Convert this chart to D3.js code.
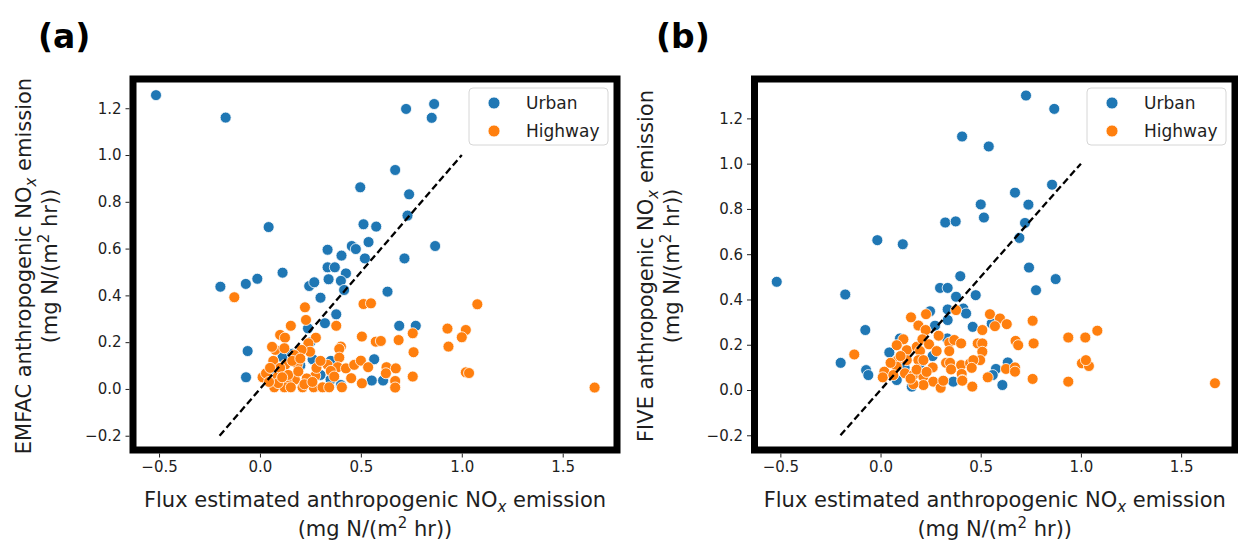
<!DOCTYPE html>
<html>
<head>
<meta charset="utf-8">
<script src="https://cdn.jsdelivr.net/npm/d3@7"></script>
<style>
  body { margin: 0; background: #fff; }
  text { font-family: "DejaVu Sans", sans-serif; fill: #1e1e1e; }
</style>
</head>
<body>
<script>
// ---- data ----
const urbanA = [
  [-0.515,1.256],[-0.17,1.16],[0.724,1.197],[0.863,1.218],[0.851,1.159],[0.67,0.936],
  [0.497,0.862],[0.739,0.832],[0.731,0.741],[0.043,0.692],[0.513,0.704],[0.576,0.694],
  [0.538,0.628],[0.868,0.611],[0.335,0.595],[0.455,0.611],[0.475,0.598],[0.404,0.57],
  [0.52,0.558],[0.716,0.558],[0.335,0.52],[0.371,0.52],[0.426,0.494],[0.112,0.497],
  [-0.196,0.437],[-0.07,0.449],[-0.013,0.471],[0.244,0.44],[0.269,0.456],[0.34,0.469],
  [0.401,0.462],[0.417,0.423],[0.3,0.39],[0.632,0.416],[0.378,0.319],[0.322,0.281],
  [0.238,0.259],[0.69,0.27],[0.772,0.27],[-0.061,0.162],[-0.069,0.05],[0.261,0.127],
  [0.351,0.12],[0.566,0.127],[0.554,0.036],[0.61,0.036],[0.401,0.017],[0.112,0.135],
  [0.16,0.15],[0.2,0.1],[0.3,0.06],[0.08,0.08],[0.35,0.04],[0.25,0.2]
];
const highwayA = [
  [-0.127,0.392],[1.077,0.362],[0.513,0.363],[0.55,0.366],[0.223,0.349],[0.228,0.295],
  [0.153,0.27],[0.378,0.27],[0.929,0.258],[1.02,0.252],[1.0,0.221],[0.934,0.181],
  [1.02,0.071],[1.036,0.068],[0.757,0.238],[0.761,0.157],[0.757,0.053],[0.505,0.224],
  [0.574,0.202],[0.599,0.205],[0.687,0.209],[0.1,0.231],[0.124,0.219],[0.277,0.219],
  [0.24,0.195],[0.248,0.159],[0.401,0.181],[0.393,0.171],[0.076,0.167],[0.121,0.174],
  [0.206,0.167],[0.17,0.145],[0.066,0.12],[0.125,0.103],[0.186,0.106],[0.393,0.134],
  [0.335,0.103],[0.385,0.093],[0.426,0.088],[0.467,0.103],[0.5,0.121],[0.536,0.093],
  [0.627,0.093],[0.673,0.088],[0.624,0.067],[0.351,0.077],[0.368,0.053],[0.274,0.056],
  [0.232,0.045],[0.173,0.04],[0.132,0.033],[0.452,0.046],[0.505,0.024],[0.67,0.034],
  [0.67,0.006],[0.013,0.05],[0.03,0.067],[0.088,0.053],[0.071,0.007],[0.121,0.007],
  [0.153,0.007],[0.211,0.007],[0.266,0.007],[0.31,0.007],[0.343,0.007],[0.406,0.007],
  [1.658,0.006],[0.1,0.09],[0.14,0.06],[0.19,0.075],[0.22,0.02],[0.09,0.025],
  [0.05,0.09],[0.16,0.12],[0.045,0.03],[0.26,0.03],[0.11,0.05],[0.2,0.13],
  [0.06,0.18],[0.28,0.09],[0.3,0.12]
];
const urbanB = [
  [-0.518,0.478],[-0.176,0.422],[0.726,1.301],[0.867,1.242],[0.407,1.12],[0.54,1.076],
  [0.856,0.907],[0.671,0.872],[0.5,0.82],[0.738,0.819],[0.516,0.762],[0.323,0.74],
  [0.375,0.745],[0.721,0.738],[0.693,0.672],[-0.016,0.662],[0.111,0.644],[0.741,0.541],
  [0.874,0.49],[0.776,0.441],[0.398,0.503],[0.297,0.451],[0.335,0.451],[0.475,0.419],
  [0.377,0.412],[0.413,0.36],[0.427,0.338],[0.335,0.356],[0.247,0.348],[0.335,0.309],
  [0.272,0.284],[0.46,0.279],[0.555,0.294],[-0.076,0.265],[0.333,0.228],[0.097,0.228],
  [0.044,0.166],[-0.199,0.12],[-0.072,0.088],[-0.061,0.066],[0.26,0.15],[0.635,0.122],
  [0.576,0.093],[0.56,0.066],[0.608,0.022],[0.363,0.037],[0.081,0.044],[0.156,0.015],
  [0.2,0.12],[0.12,0.1]
];
const highwayB = [
  [-0.131,0.157],[1.082,0.262],[0.937,0.232],[1.022,0.232],[1.005,0.118],[1.04,0.106],
  [1.025,0.132],[0.937,0.037],[0.759,0.306],[0.764,0.206],[0.759,0.049],[0.674,0.217],
  [0.687,0.198],[0.546,0.335],[0.596,0.316],[0.63,0.291],[0.571,0.282],[0.508,0.265],
  [0.152,0.321],[0.227,0.335],[0.189,0.285],[0.225,0.265],[0.377,0.353],[0.114,0.224],
  [0.081,0.198],[0.131,0.176],[0.181,0.191],[0.209,0.224],[0.242,0.202],[0.197,0.172],
  [0.343,0.209],[0.368,0.221],[0.402,0.206],[0.28,0.172],[0.343,0.172],[0.485,0.206],
  [0.508,0.206],[0.508,0.169],[0.497,0.132],[0.086,0.132],[0.131,0.132],[0.189,0.132],
  [0.214,0.132],[0.081,0.103],[0.327,0.12],[0.347,0.12],[0.402,0.11],[0.447,0.118],
  [0.463,0.132],[0.455,0.098],[0.352,0.091],[0.405,0.071],[0.408,0.044],[0.535,0.056],
  [0.626,0.093],[0.671,0.1],[0.671,0.081],[0.458,0.015],[0.019,0.081],[0.011,0.056],
  [0.064,0.066],[0.122,0.074],[0.164,0.066],[0.214,0.059],[0.263,0.037],[0.3,0.01],
  [0.214,0.022],[0.164,0.026],[0.313,0.041],[0.408,0.041],[1.669,0.03],[0.15,0.05],
  [0.18,0.09],[0.1,0.15],[0.05,0.12],[0.26,0.1],[0.29,0.24],[0.23,0.08]
];
const xTicks = [-0.5, 0, 0.5, 1.0, 1.5];
const yTicks = [-0.2, 0, 0.2, 0.4, 0.6, 0.8, 1.0, 1.2];
const oneToOne = [[-0.2, -0.2], [1.0, 1.0]];
const seriesNames = ["Urban", "Highway"];
const colors = ["#1f77b4", "#ff7f0e"];

const W = 1238, H = 546;
const svg = d3.select("body").append("svg").attr("width", W).attr("height", H);

const panels = [
  { tag: "(a)", tagX: 38, model: "EMFAC", urban: urbanA, highway: highwayA,
    left: 133, right: 617, top: 79, bottom: 450, yDom: [-0.261, 1.325] },
  { tag: "(b)", tagX: 656, model: "FIVE", urban: urbanB, highway: highwayB,
    left: 754.5, right: 1235, top: 79, bottom: 450, yDom: [-0.265, 1.374] }
];

const spineW = 7;
const labelSize = 21, smallSize = 15;

// two-line label: line one has NO with an italic subscript x, line two has m squared
function addLabel(g, first, tx, ty, rotate) {
  const t1 = g.append("text")
    .attr("transform", `translate(${tx[0]},${ty[0]})` + (rotate ? " rotate(-90)" : ""))
    .attr("text-anchor", "middle").attr("font-size", labelSize);
  t1.append("tspan").text(first + " NO");
  t1.append("tspan").text("x").attr("font-style", "italic").attr("font-size", smallSize).attr("dy", 5);
  t1.append("tspan").text(" emission").attr("dy", -5);
  const t2 = g.append("text")
    .attr("transform", `translate(${tx[1]},${ty[1]})` + (rotate ? " rotate(-90)" : ""))
    .attr("text-anchor", "middle").attr("font-size", labelSize);
  t2.append("tspan").text("(mg N/(m");
  t2.append("tspan").text("2").attr("font-size", smallSize).attr("dy", -8);
  t2.append("tspan").text(" hr))").attr("dy", 8);
}

panels.forEach(p => {
  const x = d3.scaleLinear().domain([-0.629, 1.769]).range([p.left, p.right]);
  const y = d3.scaleLinear().domain(p.yDom).range([p.bottom, p.top]);
  const g = svg.append("g");

  // points
  [p.urban, p.highway].forEach((data, i) => {
    g.append("g").selectAll("circle")
      .data(data)
      .enter()
      .append("circle")
      .attr("cx", d => x(d[0]))
      .attr("cy", d => y(d[1]))
      .attr("r", 5.5)
      .attr("fill", colors[i])
      .attr("stroke", "#fff")
      .attr("stroke-width", 0.8);
  });

  // 1:1 line
  g.append("path")
    .datum(oneToOne)
    .attr("d", d3.line().x(d => x(d[0])).y(d => y(d[1])))
    .attr("stroke", "#000")
    .attr("stroke-width", 2.3)
    .attr("stroke-dasharray", "7,3.5")
    .attr("fill", "none");

  // frame
  g.append("rect")
    .attr("x", p.left).attr("y", p.top)
    .attr("width", p.right - p.left).attr("height", p.bottom - p.top)
    .attr("fill", "none").attr("stroke", "#000").attr("stroke-width", spineW);

  // axes
  const fmt = d3.format(".1f");
  const xAxis = g.append("g")
    .attr("transform", `translate(0,${p.bottom + spineW / 2})`)
    .call(d3.axisBottom(x).tickValues(xTicks).tickFormat(fmt).tickSize(4).tickPadding(4));
  const yAxis = g.append("g")
    .attr("transform", `translate(${p.left - spineW / 2},0)`)
    .call(d3.axisLeft(y).tickValues(yTicks).tickFormat(fmt).tickSize(4).tickPadding(4));
  [xAxis, yAxis].forEach(a => {
    a.select(".domain").remove();
    a.selectAll("text").attr("font-size", 15).attr("font-family", "DejaVu Sans");
    a.selectAll("line").attr("stroke", "#222");
  });

  // axis labels
  const cx = (p.left + p.right) / 2;
  addLabel(g, "Flux estimated anthropogenic", [cx, cx], [507, 536], false);
  addLabel(g, p.model + " anthropogenic", [p.left - 102, p.left - 76], [266, 266], true);

  // panel tag
  g.append("text").attr("x", p.tagX).attr("y", 48)
    .attr("font-size", 33).attr("font-weight", "bold").style("fill", "#000")
    .text(p.tag);

  // legend
  const lx = p.right - 148, ly = 88;
  const leg = g.append("g").attr("transform", `translate(${lx},${ly})`);
  leg.append("rect").attr("width", 139).attr("height", 57).attr("rx", 4)
    .attr("fill", "#fff").attr("fill-opacity", 0.8)
    .attr("stroke", "#d6d6d6").attr("stroke-width", 1);
  seriesNames.forEach((name, i) => {
    leg.append("circle").attr("cx", 25).attr("cy", 15 + i * 28).attr("r", 6)
      .attr("fill", colors[i]).attr("stroke", "#fff").attr("stroke-width", 0.8);
    leg.append("text").attr("x", 57).attr("y", 15 + i * 28).attr("dy", "0.35em")
      .attr("font-size", 17).text(name);
  });
});
</script>
</body>
</html>
